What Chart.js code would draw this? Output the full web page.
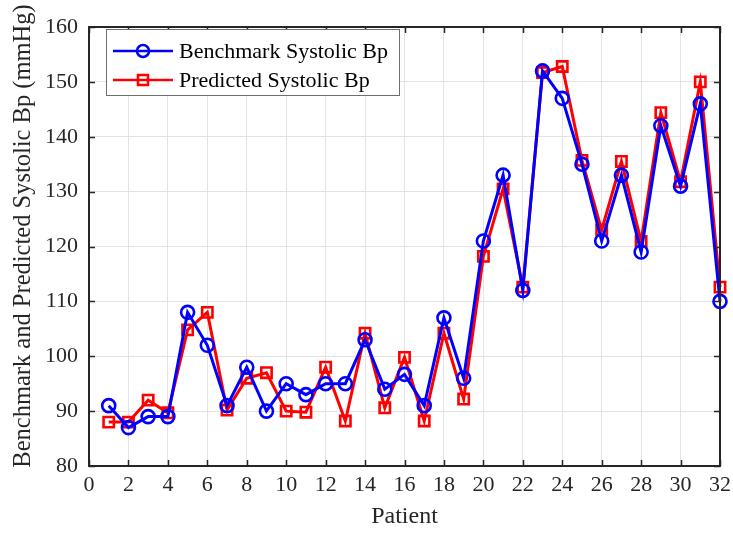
<!DOCTYPE html>
<html>
<head>
<meta charset="utf-8">
<script src="https://cdn.jsdelivr.net/npm/chart.js@4"></script>
<style>
  html, body { margin: 0; padding: 0; background: #fff; }
  #wrap { width: 733px; height: 533px; position: relative; }
</style>
</head>
<body>
<div id="wrap"><canvas id="grafica"></canvas></div>
<script>
// --- Datos ---
const pacientes = [1,2,3,4,5,6,7,8,9,10,11,12,13,14,15,16,17,18,19,20,21,22,23,24,25,26,27,28,29,30,31,32];
const benchmarkBp = [91,87,89,89,108,102,91,98,90,95,93,95,95,103,94,96.7,91,107,96,121,133,112,152,147,135,121,133,119,142,131,146,110];
const predichoBp = [88,88,92,89.7,104.8,108,90.2,96,97,90,89.8,98,88.2,104.2,90.6,99.8,88.2,104.2,92.2,118.2,130.5,112.6,151.7,152.8,135.7,123,135.5,120.9,144.4,131.8,150,112.6];
const xTicks = [0,2,4,6,8,10,12,14,16,18,20,22,24,26,28,30,32];
const yTicks = [80,90,100,110,120,130,140,150,160];
const tituloY = 'Benchmark and Predicted Systolic Bp (mmHg)';

const fuente = "'Liberation Serif', 'Times New Roman', serif";
const ejeColor = '#262626';

// --- Marco, ticks hacia dentro, titulo Y y leyenda ---
const marcoPlugin = {
    id: 'marco',
    afterDraw(chart) {
        const ctx = chart.ctx;
        const a = chart.chartArea;
        const xs = chart.scales.x, ys = chart.scales.y;
        ctx.save();
        ctx.strokeStyle = ejeColor;
        ctx.lineWidth = 1.5;
        ctx.beginPath();
        xTicks.forEach(v => {
            const px = Math.round(xs.getPixelForValue(v)) + 0.5;
            ctx.moveTo(px, a.bottom); ctx.lineTo(px, a.bottom - 6);
            ctx.moveTo(px, a.top); ctx.lineTo(px, a.top + 6);
        });
        yTicks.forEach(v => {
            const py = Math.round(ys.getPixelForValue(v)) + 0.5;
            ctx.moveTo(a.left, py); ctx.lineTo(a.left + 6, py);
            ctx.moveTo(a.right, py); ctx.lineTo(a.right - 6, py);
        });
        ctx.stroke();
        ctx.lineWidth = 2;
        ctx.strokeRect(a.left, a.top, a.right - a.left, a.bottom - a.top);

        // titulo del eje Y
        ctx.save();
        ctx.translate(24, 236);
        ctx.rotate(-Math.PI / 2);
        ctx.fillStyle = ejeColor;
        ctx.font = '24.5px ' + fuente;
        ctx.textAlign = 'center';
        ctx.textBaseline = 'middle';
        ctx.fillText(tituloY, 0, 0);
        ctx.restore();

        // leyenda
        const lx = a.left + 17, ly = a.top + 2, lw = 293, lh = 66;
        ctx.fillStyle = '#fff';
        ctx.fillRect(lx, ly, lw, lh);
        ctx.strokeStyle = '#6e6e6e';
        ctx.lineWidth = 1;
        ctx.strokeRect(lx + 0.5, ly + 0.5, lw, lh);
        ctx.font = '22px ' + fuente;
        ctx.textBaseline = 'middle';
        chart.data.datasets.forEach((ds, i) => {
            const y = ly + 22 + i * 29;
            ctx.strokeStyle = ds.borderColor;
            ctx.lineWidth = 2.5;
            ctx.beginPath();
            ctx.moveTo(lx + 7, y); ctx.lineTo(lx + 67, y);
            ctx.stroke();
            ctx.beginPath();
            if (ds.pointStyle === 'rect') {
                ctx.rect(lx + 37 - 5, y - 5, 10, 10);
            } else {
                ctx.arc(lx + 37, y, 6, 0, Math.PI * 2);
            }
            ctx.stroke();
            ctx.fillStyle = '#000';
            ctx.fillText(ds.label, lx + 73, y + 1);
        });
        ctx.restore();
    }
};

const ctx = document.getElementById('grafica').getContext('2d');
new Chart(ctx, {
    type: 'line',
    data: {
        datasets: [{
            label: 'Benchmark Systolic Bp',
            data: pacientes.map((p, i) => ({ x: p, y: benchmarkBp[i] })),
            borderColor: '#0000ff',
            backgroundColor: 'rgba(0,0,0,0)',
            borderWidth: 3,
            pointStyle: 'circle',
            pointRadius: 6.5,
            pointBorderWidth: 2.6,
            pointBackgroundColor: 'rgba(0,0,0,0)',
            tension: 0,
            clip: false
        }, {
            label: 'Predicted Systolic Bp',
            data: pacientes.map((p, i) => ({ x: p, y: predichoBp[i] })),
            borderColor: '#ff0000',
            backgroundColor: 'rgba(0,0,0,0)',
            borderWidth: 3,
            pointStyle: 'rect',
            pointRadius: 7.3,
            pointBorderWidth: 2.6,
            pointBackgroundColor: 'rgba(0,0,0,0)',
            tension: 0,
            clip: false
        }]
    },
    options: {
        responsive: true,
        maintainAspectRatio: false,
        animation: false,
        layout: { padding: { top: 27, right: 13, left: 0, bottom: 0 } },
        plugins: {
            legend: { display: false },
            tooltip: { enabled: false }
        },
        scales: {
            x: {
                type: 'linear',
                min: 0, max: 32,
                afterFit: s => { s.height = 67; s.paddingLeft = 0; s.paddingRight = 0; },
                afterBuildTicks: s => { s.ticks = xTicks.map(v => ({ value: v })); },
                grid: { color: '#e3e3e3', lineWidth: 1, drawTicks: false },
                border: { display: false },
                ticks: { color: ejeColor, font: { family: fuente, size: 22 }, padding: 6, maxRotation: 0 },
                title: { display: true, text: 'Patient', color: ejeColor, font: { family: fuente, size: 24 }, padding: { top: 0, bottom: 2 } }
            },
            y: {
                min: 80, max: 160,
                afterFit: s => { s.width = 89; s.paddingTop = 0; s.paddingBottom = 0; },
                afterBuildTicks: s => { s.ticks = yTicks.map(v => ({ value: v })); },
                grid: { color: '#e3e3e3', lineWidth: 1, drawTicks: false },
                border: { display: false },
                ticks: { color: ejeColor, font: { family: fuente, size: 22 }, padding: 11 },
                title: { display: false }
            }
        }
    },
    plugins: [marcoPlugin]
});
</script>
</body>
</html>
